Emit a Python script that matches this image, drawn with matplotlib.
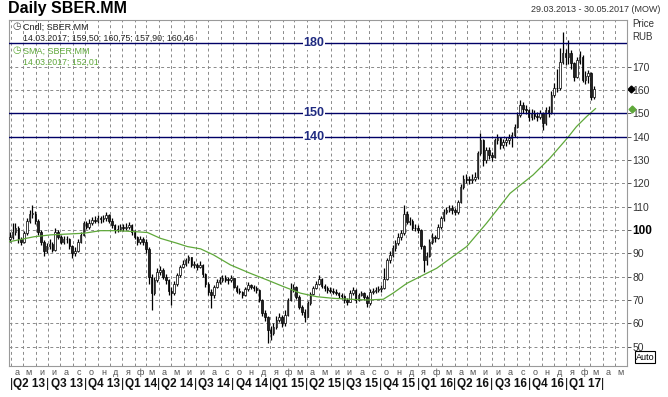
import matplotlib
matplotlib.use("Agg")
import matplotlib.pyplot as plt
import matplotlib.dates as mdates
import matplotlib.transforms as mtransforms
import numpy as np
import pandas as pd

plt.rcParams['font.family'] = ['Liberation Sans', 'DejaVu Sans']

# weekly candles (SBER.MM, RUB)
first_week = "2013-03-29"
first_open = 96
closes = [
    97, 99, 101, 96, 95, 98.6, 104, 107, 107, 104,
    99, 95, 91, 93, 94, 91.4, 99, 97, 95, 96,
    96, 93, 90, 91, 95, 98, 103, 101.4, 103, 104.3,
    104, 105, 104.5, 105, 106.4, 104, 102, 100, 100.5, 101.4,
    101, 101.4, 102, 99, 97, 95, 96, 95, 92, 80,
    73, 78.6, 82, 82.9, 80, 78.6, 74, 73, 77, 80.7,
    84.3, 85.5, 87.1, 88.3, 85, 85, 84.3, 85, 81, 77,
    73.5, 72, 75.7, 77.9, 78.6, 79.5, 78.6, 78.5, 79.3, 75.7,
    74, 73.5, 72.1, 74.5, 76.4, 75.7, 75, 74.3, 70, 64.3,
    62.9, 57, 56, 58.6, 61.5, 62.9, 60, 63.5, 70, 74.3,
    75.7, 71.4, 67.1, 65, 62.9, 68.6, 72.5, 75, 77, 79,
    76, 75, 74.3, 74, 73.6, 73, 72.1, 71.5, 70, 69.3,
    73, 74.3, 70, 72, 72.9, 71.4, 68.5, 73.6, 74, 74.3,
    74.6, 75, 79, 87.1, 89.3, 92.1, 94.3, 97, 98.6, 107,
    103.6, 104, 101, 100.7, 100, 93, 87, 89, 95, 97,
    96.4, 101.4, 105, 107.9, 108.5, 109.3, 108.5, 107.9, 112, 118.6,
    122, 121.5, 121.4, 122, 122.9, 132.9, 138.6, 130, 134.3, 132,
    131.4, 138.6, 139.3, 136.4, 137.5, 138.6, 139.5, 140.7, 144.3, 149.3,
    153.6, 152, 151.4, 148.6, 150, 149, 148.6, 150, 145.7, 151.4,
    150, 158, 160.7, 160.7, 172, 175.7, 174.3, 176, 171.4, 165.7,
    172.9, 174.3, 164.3, 166, 167.1, 157.1, 160.5,
]
highs = [
    99, 103, 103, 101.5, 97, 99.5, 105, 108.5, 110.7, 108,
    104.5, 100, 95.5, 94.5, 96, 95, 101, 100, 98, 97.5,
    97.5, 96.5, 93.5, 92.5, 96, 99, 104, 104, 104.5, 105.5,
    106, 106.5, 106, 106.5, 107.5, 107, 105, 102.5, 102, 102.5,
    102.5, 103, 103.5, 102.5, 100, 97.5, 97.5, 97, 96, 92.5,
    81, 80, 83.6, 84.5, 83.5, 81, 79, 75.5, 78, 81.5,
    85, 87, 88, 89.3, 88.5, 86.5, 86, 86.5, 85.5, 81.5,
    77.5, 74.5, 76.5, 79, 80, 80.5, 80.5, 80, 80.5, 79.5,
    76.5, 75, 74, 75.5, 77.5, 77, 76.5, 76, 74.5, 70.5,
    65.5, 63, 59, 60, 63, 64.5, 63.5, 65.7, 71, 77.1,
    77, 76, 72, 68, 66, 69.5, 73.5, 76, 78, 80.7,
    79.5, 77, 76, 75.5, 75, 74.5, 73.5, 73, 72, 71,
    74.3, 75.5, 74.5, 73, 74, 73.5, 72, 74.5, 75, 75.5,
    76, 76.5, 83.6, 88, 91, 93.5, 95.5, 98.5, 100, 110.7,
    108, 105.5, 104.5, 102.5, 102, 100.5, 93.5, 90.5, 96, 98.5,
    98, 102.5, 106, 109, 110, 110.5, 110.5, 109.5, 113, 119.5,
    123.5, 124, 123, 124, 125, 134, 141.4, 139, 135.5, 135.5,
    133.5, 139.5, 141, 140, 139, 140, 141, 142, 145.5, 150.5,
    155.7, 155, 153.5, 152, 152, 151.5, 150.5, 151.5, 150.5, 152.5,
    153, 159.5, 163, 169, 178, 185, 177.5, 181.4, 177, 172,
    174, 176.5, 175, 168, 168.5, 167.5, 161.5,
]
lows = [
    95, 96, 98, 94.5, 93.5, 94.5, 98, 103, 105, 102.5,
    98, 93.5, 89, 90, 92, 90.5, 91, 96, 94, 94,
    94.5, 92, 87.9, 89, 90.5, 94.5, 97.5, 100.5, 100.5, 102,
    103, 103, 103, 103.5, 104, 103, 101, 98.5, 99, 99.5,
    99.5, 100, 100.5, 98, 96, 93.5, 94, 93.5, 90, 77,
    65.7, 72, 77.5, 80.5, 79, 77, 72, 67.9, 72, 76,
    80, 83.5, 84.5, 86, 84, 83.5, 83, 83.5, 80, 75.5,
    72, 66.4, 71, 75, 77, 77.5, 77.5, 77, 77.5, 75,
    73, 72.5, 71, 71.5, 74, 74.5, 74, 73, 69, 63,
    61, 51.4, 53, 55, 57.5, 60.5, 58.5, 59, 63, 69.5,
    73.5, 70.5, 66, 63.5, 60.7, 62.5, 68, 72, 74.5, 76.5,
    75, 74, 73, 73, 72.5, 72, 71, 70.5, 68.5, 67.9,
    69, 72, 68.6, 69.5, 71.5, 70, 67.1, 68, 72.5, 73,
    73.5, 73.5, 74.5, 78.5, 86, 88.5, 91, 93.5, 95.5, 98,
    102.5, 102, 100, 99.5, 98.5, 92, 82.1, 85, 88.5, 94,
    95, 96, 100.5, 104, 107, 107.5, 107, 106.5, 107, 111.5,
    117.5, 120, 119.5, 120, 121, 122, 132, 127.5, 128.5, 130.5,
    129.5, 131, 137, 134.5, 135, 136, 137, 135.5, 140, 143.5,
    148.5, 150, 149.5, 146.5, 147, 147.5, 146.5, 147.5, 142.9, 145,
    148.5, 149.5, 157, 159, 160, 171, 170.5, 171, 169, 164,
    165, 171, 163.5, 162.5, 163, 155.5, 156,
]

# 200-day SMA
sma_dates = ["2013-03-29", "2013-05-28", "2013-07-08", "2013-09-28", "2013-11-08",
             "2013-12-19", "2014-01-30", "2014-03-04", "2014-04-05", "2014-05-16",
             "2014-06-10", "2014-07-13", "2014-08-14", "2014-09-25", "2014-11-13",
             "2014-12-24", "2015-02-03", "2015-03-17", "2015-04-26", "2015-06-06",
             "2015-07-18", "2015-08-28", "2015-10-07", "2015-10-31", "2015-12-04",
             "2016-01-06", "2016-01-30", "2016-02-16", "2016-04-30", "2016-06-18",
             "2016-08-15", "2016-10-11", "2016-11-21", "2016-12-16", "2017-01-05",
             "2017-01-26", "2017-02-20", "2017-03-14"]
sma_values = [95.0, 97.1, 97.9, 98.6, 99.7, 99.7, 99.3, 98.9, 96.4, 94.3,
              92.9, 91.9, 89.3, 85.0, 81.4, 78.6, 75.7, 72.9, 71.4, 70.7,
              70.3, 70.0, 70.3, 72.9, 77.1, 80.0, 82.1, 83.6, 92.9, 102.9,
              115.7, 123.6, 130.7, 135.7, 139.7, 144.3, 148.6, 152.01]

levels = [180, 150, 140]
last_close = 160.46
last_sma = 152.01
price_ticks = list(range(50, 180, 10))
month_letters = ["я", "ф", "м", "а", "м", "и", "и", "а", "с", "о", "н", "д"]
date_from = "2013-03-29"
date_to = "2017-05-30"

W, H = 668, 397
fig = plt.figure(figsize=(W / 100, H / 100), dpi=100)
ax = fig.add_axes([9 / W, 1 - 366 / H, 617.7 / W, 346.5 / H])

wk = pd.date_range(first_week, periods=len(closes), freq="7D")
x = mdates.date2num(wk)
c = np.array(closes)
o = np.array([first_open] + closes[:-1])
up = c >= o

ax.vlines(x, lows, highs, color="black", lw=0.9, zorder=3)
ax.bar(x, np.maximum(np.abs(c - o), 0.3), bottom=np.minimum(o, c), width=3.8,
       color=np.where(up, "white", "#222222"), edgecolor="black", linewidth=0.5, zorder=4)

ax.plot(mdates.date2num(pd.to_datetime(sma_dates)), sma_values, color="#5fa83a", lw=0.9, zorder=5)

# grid
ax.set_xlim(mdates.date2num(pd.Timestamp("2013-03-27")), mdates.date2num(pd.Timestamp(date_to)))
ax.set_ylim(41.7, 190.2)
ax.xaxis.set_major_locator(mdates.MonthLocator())
ax.set_yticks(price_ticks)
ax.grid(True, color="#8a8a8a", linestyle=(0, (3, 3)), lw=0.7)
ax.set_axisbelow(True)
for s in ax.spines.values():
    s.set_color("#9a9a9a")
    s.set_linewidth(0.8)

ax.tick_params(axis="x", length=0, labelbottom=False)
ax.yaxis.tick_right()
ax.tick_params(axis="y", length=3, width=0.7, color="#555555", pad=1,
               labelsize=7.5, labelcolor="#333333")
for lbl in ax.get_yticklabels():
    if lbl.get_text() == "100":
        lbl.set_fontweight("bold")
        lbl.set_fontsize(8.5)
        lbl.set_color("black")

# horizontal levels
trans_ax_data = mtransforms.blended_transform_factory(ax.transAxes, ax.transData)
for lv in levels:
    ax.axhline(lv, color="#000066", lw=1, zorder=6)
    ax.text(0.494, lv, str(lv), transform=trans_ax_data, ha="center", va="center",
            fontsize=9, fontweight="bold", color="#1f2a80", zorder=7,
            bbox=dict(facecolor="white", edgecolor="none", pad=0.5))

# last values on the price scale
ax.plot([1.007], [last_close], marker="D", ms=3.5, color="black", transform=trans_ax_data, clip_on=False)
ax.plot([1.009], [last_sma], marker="D", ms=3.5, color="#5fa83a", transform=trans_ax_data, clip_on=False)

# month letters and quarters under the axis
trans_data_ax = mtransforms.blended_transform_factory(ax.transData, ax.transAxes)
months = pd.date_range("2013-04-01", "2017-05-01", freq="MS")
for m in months:
    mid = mdates.date2num(m + pd.Timedelta(days=14))
    ax.text(mid, -0.02, month_letters[m.month - 1], transform=trans_data_ax, ha="center",
            va="center", fontsize=6.5, color="#555555", clip_on=False)
quarters = pd.period_range("2013Q2", "2017Q1", freq="Q")
for q in quarters:
    start = mdates.date2num(q.start_time)
    end = mdates.date2num(q.end_time.normalize() + pd.Timedelta(days=1))
    ax.text(start, -0.052, "|", transform=trans_data_ax, ha="center", va="center",
            fontsize=9, color="black", clip_on=False)
    ax.text((start + end) / 2, -0.052, "Q%d %s" % (q.quarter, str(q.year)[2:]),
            transform=trans_data_ax, ha="center", va="center", fontsize=8.5,
            fontweight="bold", color="#111111", clip_on=False)
ax.text(end, -0.052, "|", transform=trans_data_ax, ha="center", va="center",
        fontsize=9, color="black", clip_on=False)

# header and legend
fig.text(8 / W, 1 - 9 / H, "Daily SBER.MM", fontsize=11.5, fontweight="bold", va="center")
fig.text(660 / W, 1 - 10 / H, date_from[8:10] + "." + date_from[5:7] + "." + date_from[:4] + " - "
         + date_to[8:10] + "." + date_to[5:7] + "." + date_to[:4] + " (MOW)",
         fontsize=6.5, ha="right", va="center", color="#333333")
fig.text(632 / W, 1 - 24 / H, "Price", fontsize=7, va="center", color="#333333")
fig.text(632 / W, 1 - 37 / H, "RUB", fontsize=7, va="center", color="#333333")
fig.text(645 / W, 1 - 357 / H, "Auto", fontsize=6.5, ha="center", va="center",
         bbox=dict(facecolor="white", edgecolor="black", lw=0.8, pad=0.8))

fig.text(17 / W, 1 - 26 / H, "◷", fontsize=7, ha="center", va="center", color="#444444",
         family=["DejaVu Sans"])
fig.text(23 / W, 1 - 27 / H, "Cndl; SBER.MM", fontsize=6.5, va="center", color="#222222")
fig.text(23 / W, 1 - 38 / H, "14.03.2017; 159,50; 160,75; 157,90; 160,46", fontsize=6.3,
         va="center", color="#222222")
fig.text(17 / W, 1 - 50 / H, "◷", fontsize=7, ha="center", va="center", color="#5fa83a",
         family=["DejaVu Sans"])
fig.text(23 / W, 1 - 51 / H, "SMA; SBER.MM", fontsize=6.5, va="center", color="#5fa83a")
fig.text(23 / W, 1 - 62 / H, "14.03.2017; %.2f" % last_sma, fontsize=6.3, va="center",
         color="#5fa83a").set_text("14.03.2017; 152,01")

fig.savefig("out.png", dpi=100)
